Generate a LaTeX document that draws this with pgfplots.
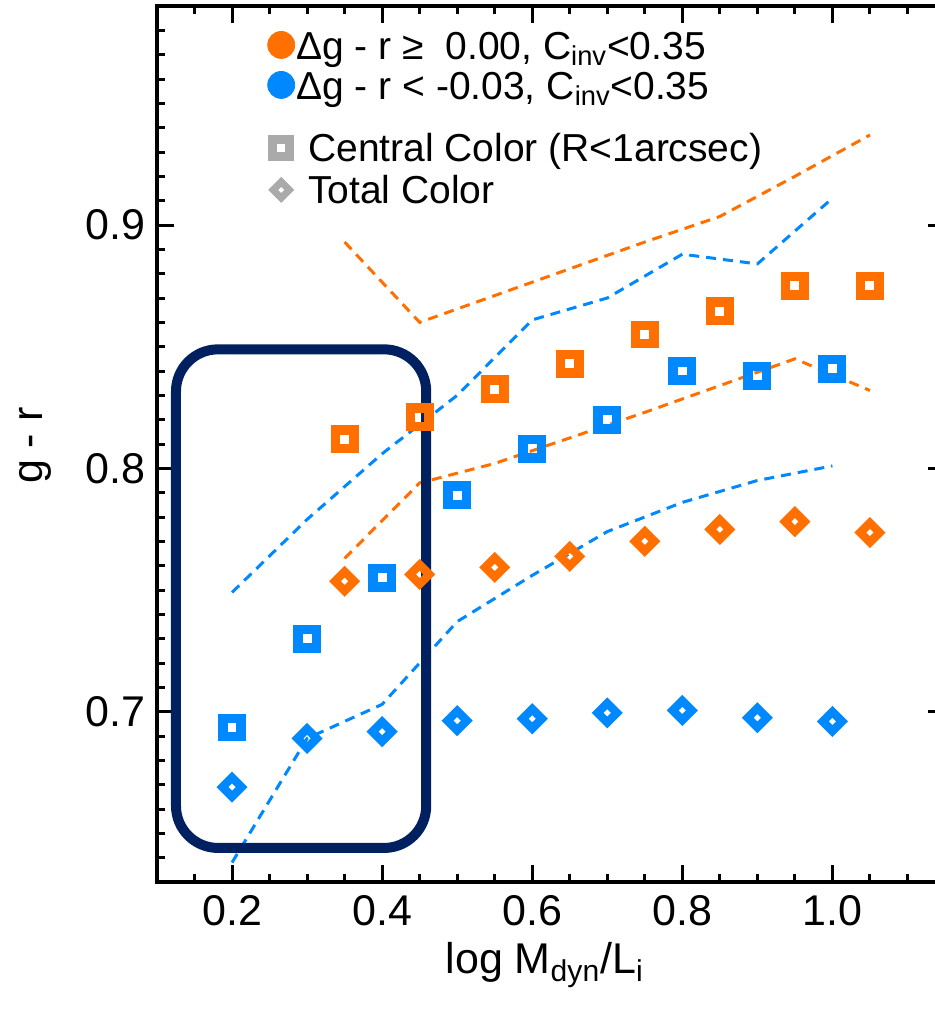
\documentclass[border=0pt]{standalone}
\usepackage{pgfplots}
\pgfplotsset{compat=1.18}
\usepackage{fontspec}
\setmainfont{Liberation Sans}

\definecolor{corange}{RGB}{255,112,0}
\definecolor{cblue}{RGB}{0,136,255}
\definecolor{cgray}{RGB}{170,170,170}
\definecolor{cnavy}{RGB}{0,32,96}

\pgfplotsset{
  sq/.style={only marks, mark=square, mark size=4.6pt,
    mark options={solid, line width=4.75pt}},
  dm/.style={only marks, mark=square, mark size=3.4pt,
    mark options={solid, rotate=45, line width=4.2pt}},
  dl/.style={no marks, line width=1.5pt, dash pattern=on 5pt off 3.5pt},
}

\begin{document}
\begin{tikzpicture}
\begin{axis}[
  scale only axis,
  width=394pt, height=438pt,
  xmin=0.1, xmax=1.15, ymin=0.63, ymax=0.99,
  xtick={0.2,0.4,0.6,0.8,1.0},
  minor xtick={0.15,0.25,0.3,0.35,0.45,0.5,0.55,0.65,0.7,0.75,0.85,0.9,0.95,1.05,1.1},
  ytick={0.7,0.8,0.9},
  minor ytick={0.64,0.65,0.66,0.67,0.68,0.69,0.71,0.72,0.73,0.74,0.75,0.76,0.77,0.78,0.79,
    0.81,0.82,0.83,0.84,0.85,0.86,0.87,0.88,0.89,0.91,0.92,0.93,0.94,0.95,0.96,0.97,0.98},
  tick align=inside,
  major tick length=8.5pt, minor tick length=4pt,
  every tick/.style={black, line width=1.5pt},
  axis line style={line width=2pt},
  /pgf/number format/assume math mode=true,
  /pgf/number format/fixed,
  /pgf/number format/fixed zerofill,
  /pgf/number format/precision=1,
  tick label style={font=\fontsize{21.5}{25}\selectfont},
  xticklabel style={yshift=-3pt},
  yticklabel style={xshift=-2.5pt},
  xlabel={log M\textsubscript{dyn}/L\textsubscript{i}},
  ylabel={g - r},
  every axis x label/.style={at={(axis description cs:0.492,0)}, anchor=center,
    yshift=-41.5pt, font=\fontsize{21.5}{25}\selectfont},
  every axis y label/.style={at={(axis description cs:0,0.498)}, xshift=-61pt,
    rotate=90, anchor=center, font=\fontsize{21.5}{25}\selectfont},
  legend style={at={(axis description cs:0.14,0.972)}, anchor=north west,
    draw=none, fill=none, inner sep=0pt, column sep=0pt, row sep=0pt,
    font=\fontsize{19.5}{22}\selectfont,
    nodes={inner sep=0.75pt, text height=13.5pt, text depth=5pt}},
  legend cell align=left,
  legend image code/.code={\draw[#1] plot coordinates {(0pt,0pt)};},
]
\addlegendimage{only marks, mark=*, mark size=6.75pt, color=corange, yshift=3pt}
\addlegendentry{Δg - r ≥~ 0.00, C\textsubscript{inv}<0.35}
\addlegendimage{only marks, mark=*, mark size=6.75pt, color=cblue, yshift=8.5pt}
\addlegendentry[text depth=16pt]{Δg - r < -0.03, C\textsubscript{inv}<0.35}
\addlegendimage{only marks, mark=square, mark size=4.25pt, mark options={line width=4.5pt}, color=cgray, yshift=3pt}
\addlegendentry[text depth=6pt]{\hspace{6pt}Central Color (R<1arcsec)}
\addlegendimage{only marks, mark=square, mark size=2.85pt, mark options={rotate=45, line width=3.5pt}, color=cgray, yshift=2.5pt}
\addlegendentry{\hspace{6pt}Total Color}

% central colour
\addplot[sq, color=corange, forget plot] coordinates {
(0.35,0.812) (0.45,0.821) (0.55,0.8325) (0.65,0.843) (0.75,0.855)
(0.85,0.8645) (0.95,0.875) (1.05,0.875)};
\addplot[sq, color=cblue, forget plot] coordinates {
(0.2,0.6935) (0.3,0.730) (0.4,0.755) (0.5,0.789) (0.6,0.808)
(0.7,0.820) (0.8,0.840) (0.9,0.838) (1.0,0.841)};

% total colour
\addplot[dm, color=corange, forget plot] coordinates {
(0.35,0.7536) (0.45,0.7564) (0.55,0.7593) (0.65,0.7638) (0.75,0.770)
(0.85,0.7749) (0.95,0.7781) (1.05,0.7736)};
\addplot[dm, color=cblue, forget plot] coordinates {
(0.2,0.669) (0.3,0.689) (0.4,0.6918) (0.5,0.6963) (0.6,0.6971)
(0.7,0.6995) (0.8,0.7005) (0.9,0.6975) (1.0,0.696)};

% spread
\addplot[dl, color=corange, forget plot] coordinates {
(0.35,0.893) (0.45,0.860) (0.55,0.871) (0.65,0.882) (0.75,0.893)
(0.85,0.9035) (0.95,0.920) (1.05,0.937)};
\addplot[dl, color=corange, forget plot] coordinates {
(0.35,0.763) (0.45,0.794) (0.55,0.802) (0.65,0.8125) (0.75,0.823)
(0.85,0.834) (0.95,0.845) (1.05,0.832)};
\addplot[dl, color=cblue, forget plot] coordinates {
(0.2,0.749) (0.3,0.779) (0.4,0.806) (0.5,0.830) (0.6,0.861)
(0.7,0.870) (0.8,0.888) (0.9,0.884) (1.0,0.911)};
\addplot[dl, color=cblue, forget plot] coordinates {
(0.2,0.638) (0.3,0.689) (0.4,0.703) (0.5,0.737) (0.6,0.756)
(0.7,0.774) (0.8,0.786) (0.9,0.795) (1.0,0.801)};

\draw[cnavy, line width=5pt, rounded corners=21pt]
  (axis cs:0.1253,0.644) rectangle (axis cs:0.4587,0.8489);
\end{axis}
\pgfresetboundingbox
\path[use as bounding box] ([xshift=-78.5pt,yshift=-63.5pt]current axis.south west)
  rectangle ([xshift=389pt,yshift=441pt]current axis.south west);
\end{tikzpicture}
\end{document}
